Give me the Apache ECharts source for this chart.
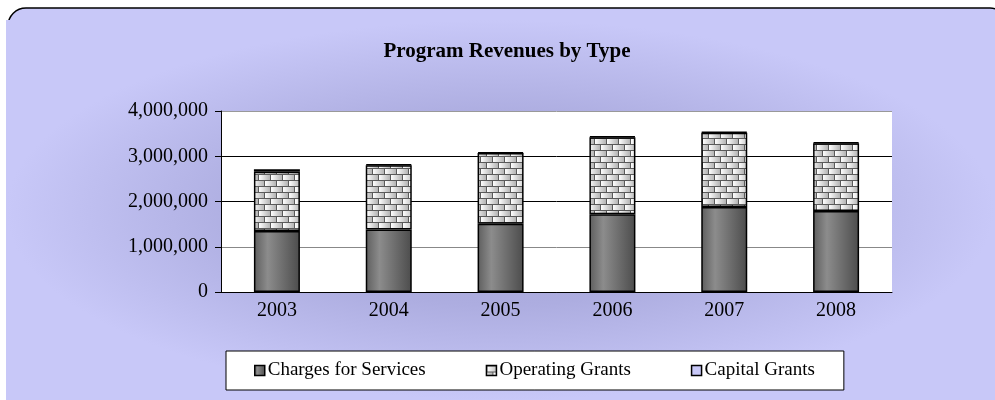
<!DOCTYPE html>
<html>
<head>
<meta charset="utf-8">
<script src="https://cdn.jsdelivr.net/npm/echarts@6/dist/echarts.min.js"></script>
<style>
  html, body { margin: 0; padding: 0; background: #fff; }
  #chart { width: 995px; height: 400px; }
</style>
</head>
<body>
<div id="chart"></div>
<script>
const years = ['2003', '2004', '2005', '2006', '2007', '2008'];
const charges = [1350000, 1380000, 1510000, 1720000, 1880000, 1790000];
const operating = [1310000, 1420000, 1560000, 1700000, 1640000, 1500000];
const capital = [50000, 20000, 20000, 20000, 20000, 20000];
const yTicks = [0, 1000000, 2000000, 3000000, 4000000];

// brick fill for the operating grants
function brickPattern() {
  const c = document.createElement('canvas');
  c.width = 24; c.height = 12;
  const ctx = c.getContext('2d');
  ctx.fillStyle = '#5a5a5a';
  ctx.fillRect(0, 0, 24, 12);
  const brick = (x, y, w) => {
    const g = ctx.createLinearGradient(x, 0, x + w, 0);
    g.addColorStop(0, '#ffffff');
    g.addColorStop(1, '#b4b4b4');
    ctx.fillStyle = g;
    ctx.fillRect(x, y, w, 5);
  };
  brick(1, 1, 11); brick(13, 1, 11);
  brick(-5, 7, 11); brick(7, 7, 11); brick(19, 7, 11);
  return c;
}

const serif = "'Liberation Serif', 'Times New Roman', serif";
const chart = echarts.init(document.getElementById('chart'));
chart.setOption({
  animation: false,
  graphic: [
    {
      type: 'rect', z: -10,
      shape: { x: 8, y: 8, width: 1000, height: 400, r: 18 },
      style: { fill: '#c8c8f8', stroke: '#000', lineWidth: 1.5 }
    },
    {
      type: 'rect', z: -9, silent: true,
      x: 500, y: 210, scaleX: 2.6, scaleY: 1,
      shape: { x: -190, y: -190, width: 380, height: 380 },
      style: {
        fill: {
          type: 'radial', x: 0.5, y: 0.5, r: 0.5,
          colorStops: [
            { offset: 0, color: '#a4a4d2' },
            { offset: 0.5, color: '#adade0' },
            { offset: 1, color: '#c8c8f8' }
          ]
        }
      }
    }
  ],
  title: {
    text: 'Program Revenues by Type',
    left: 502, top: 36, textAlign: 'center',
    textStyle: { fontFamily: serif, fontSize: 21, fontWeight: 'bold', color: '#000' }
  },
  legend: {
    left: 226, top: 351,
    padding: [10, 29, 10, 28],
    icon: 'rect',
    itemWidth: 10, itemHeight: 10, itemGap: 60,
    itemStyle: { borderColor: '#000', borderWidth: 1.5 },
    backgroundColor: '#fff', borderColor: '#000', borderWidth: 1,
    textStyle: { fontFamily: serif, fontSize: 19, color: '#000', padding: [0, 0, 0, -2] },
    data: ['Charges for Services', 'Operating Grants', 'Capital Grants']
  },
  grid: { left: 221, right: 103, top: 111, bottom: 108, show: true, backgroundColor: '#fff', borderWidth: 0 },
  xAxis: {
    type: 'category', data: years,
    axisLine: { lineStyle: { color: '#000', width: 1 } },
    axisTick: { length: 4, lineStyle: { color: '#000' } },
    axisLabel: { fontFamily: serif, fontSize: 20, color: '#000', margin: 9 }
  },
  yAxis: {
    type: 'value', min: 0, max: yTicks[yTicks.length - 1], interval: 1000000,
    axisLine: { show: true, lineStyle: { color: '#000', width: 1 } },
    axisTick: { show: true, length: 6, lineStyle: { color: '#000' } },
    axisLabel: {
      fontFamily: serif, fontSize: 20, color: '#000', margin: 13,
      formatter: v => v.toLocaleString('en-US')
    },
    splitLine: { lineStyle: { color: ['#000', '#888', '#000', '#000', '#999'], width: 1 } }
  },
  series: [
    {
      name: 'Charges for Services', type: 'bar', stack: 'rev', barWidth: 46, data: charges,
      itemStyle: {
        borderColor: '#000', borderWidth: 1.5,
        color: {
          type: 'linear', x: 0, y: 0, x2: 1, y2: 0,
          colorStops: [
            { offset: 0, color: '#5e5e5e' },
            { offset: 0.3, color: '#8c8c8c' },
            { offset: 1, color: '#4c4c4c' }
          ]
        }
      }
    },
    {
      name: 'Operating Grants', type: 'bar', stack: 'rev', data: operating,
      itemStyle: { borderColor: '#000', borderWidth: 1.5, color: { image: brickPattern(), repeat: 'repeat' } }
    },
    {
      name: 'Capital Grants', type: 'bar', stack: 'rev', data: capital,
      itemStyle: { borderColor: '#000', borderWidth: 1.5, color: '#c8c8f8' }
    }
  ]
});
</script>
</body>
</html>
